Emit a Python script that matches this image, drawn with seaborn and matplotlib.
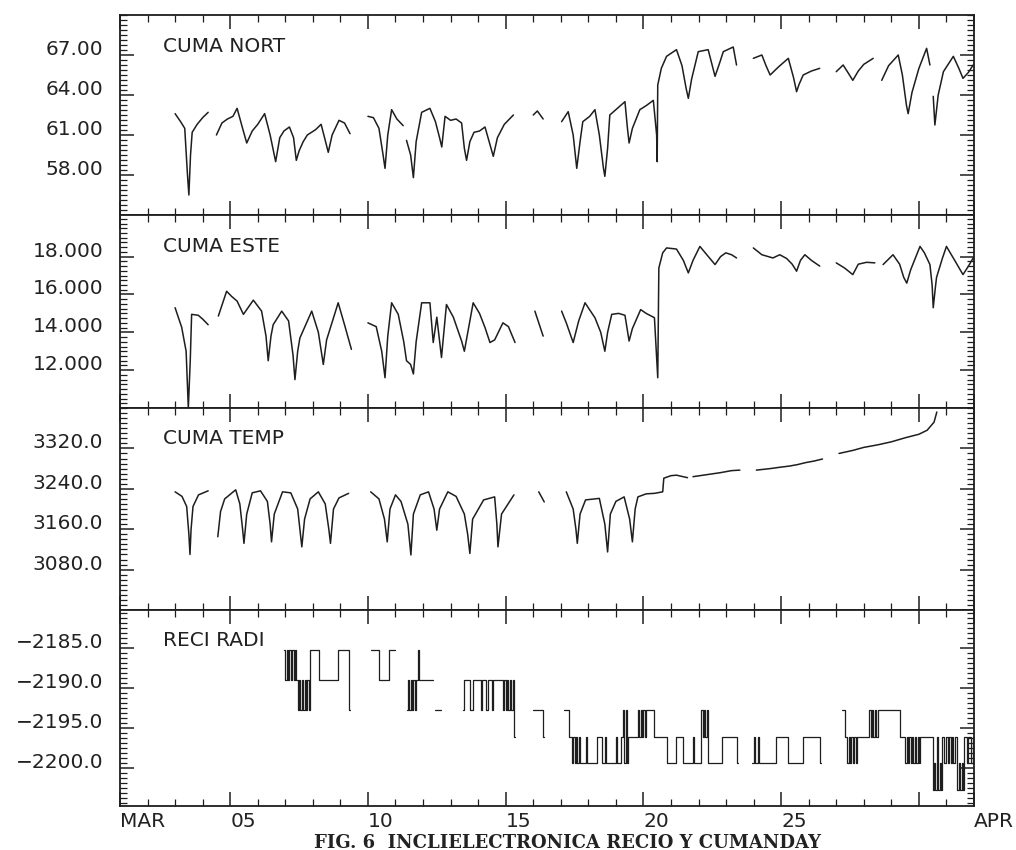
import numpy as np
import pandas as pd
import seaborn as sns
import matplotlib
matplotlib.use("Agg")
import matplotlib.pyplot as plt
from matplotlib.ticker import MultipleLocator, AutoMinorLocator

# --- DATA, x = day of March (32 = 1 April) ---
# None separates the pieces of each record (gaps in the data)

nort_days = [3.0, 3.2, 3.35, 3.45, 3.5, 3.56, 3.62, 3.8, 4.0, 4.2, None,
             4.5, 4.7, 4.9, 5.1, 5.25, 5.45, 5.6, 5.8, 6.0, 6.25, 6.45, 6.65, 6.8, 6.95, 7.15, 7.3, 7.4,
             7.5, 7.65, 7.8, 8.1, 8.3, 8.45, 8.56, 8.7, 8.95, 9.15, 9.35, None,
             10.0, 10.2, 10.4, 10.55, 10.62, 10.72, 10.86, 11.05, 11.28, None,
             11.4, 11.55, 11.65, 11.75, 11.95, 12.25, 12.45, 12.6, 12.68, 12.8, 13.0, 13.2, 13.4, 13.5,
             13.58, 13.7, 13.85, 14.05, 14.25, 14.4, 14.55, 14.7, 14.95, 15.28, None,
             16.0, 16.15, 16.36, None,
             17.03, 17.27, 17.45, 17.58, 17.7, 17.8, 18.05, 18.24, 18.4, 18.55, 18.6, 18.7, 18.78, 19.0,
             19.33, 19.42, 19.48, 19.6, 19.87, 20.1, 20.36, 20.48, 20.5, 20.52, 20.65, 20.84, 21.2, 21.4,
             21.55, 21.63, 21.75, 21.99, 22.35, 22.5, 22.6, 22.75, 22.9, 23.26, 23.38, None,
             23.99, 24.3, 24.45, 24.6, 24.9, 25.26, 25.45, 25.56, 25.65, 25.8, 26.1, 26.4, None,
             27.0, 27.25, 27.45, 27.6, 27.8, 28.0, 28.34, None,
             28.65, 28.9, 29.25, 29.4, 29.55, 29.61, 29.75, 30.0, 30.28, 30.4, None,
             30.52, 30.58, 30.7, 30.89, 31.25, 31.45, 31.6, 31.8, 31.97]
nort_vals = [62.6, 62.0, 61.5, 58.0, 56.5, 59.5, 61.2, 61.8, 62.3, 62.7, None,
             61.0, 61.9, 62.2, 62.4, 63.0, 61.5, 60.4, 61.3, 61.8, 62.6, 61.0, 59.0, 60.8, 61.3, 61.6, 60.8, 59.1,
             59.8, 60.5, 61.0, 61.4, 61.8, 60.6, 59.7, 61.0, 62.1, 61.9, 61.1, None,
             62.4, 62.3, 61.5, 59.5, 58.5, 61.0, 62.9, 62.2, 61.7, None,
             60.6, 59.5, 57.8, 60.5, 62.7, 63.0, 62.0, 60.8, 60.1, 62.4, 62.1, 62.2, 61.9, 60.0,
             59.1, 60.5, 61.2, 61.3, 61.6, 60.5, 59.4, 60.8, 61.8, 62.5, None,
             62.5, 62.8, 62.2, None,
             62.0, 62.75, 61.0, 58.5, 60.5, 62.0, 62.4, 62.9, 61.0, 58.5, 57.9, 60.0, 62.5, 62.9,
             63.5, 61.5, 60.4, 61.5, 62.9, 63.2, 63.6, 61.0, 59.0, 64.75, 66.0, 66.9, 67.4, 66.2,
             64.5, 63.75, 65.2, 67.25, 67.4, 66.2, 65.4, 66.3, 67.25, 67.6, 66.25, None,
             66.75, 67.0, 66.2, 65.5, 66.1, 66.75, 65.3, 64.25, 64.8, 65.5, 65.8, 66.0, None,
             65.75, 66.25, 65.6, 65.1, 65.8, 66.3, 66.75, None,
             65.1, 66.2, 67.0, 65.5, 63.2, 62.6, 64.2, 66.0, 67.5, 66.25, None,
             63.9, 61.75, 64.0, 65.75, 66.9, 66.0, 65.25, 65.7, 66.25]

este_days = [3.0, 3.24, 3.4, 3.48, 3.55, 3.6, 3.84, 4.0, 4.2, None,
             4.57, 4.87, 5.05, 5.25, 5.48, 5.84, 6.14, 6.3, 6.38, 6.48, 6.56, 6.87, 7.12, 7.28, 7.35,
             7.45, 7.53, 7.96, 8.2, 8.38, 8.5, 8.92, 9.15, 9.4, None,
             10.0, 10.3, 10.5, 10.62, 10.72, 10.86, 11.1, 11.3, 11.4, 11.55, 11.65, 11.75, 11.95, 12.25,
             12.37, 12.5, 12.67, 12.85, 13.1, 13.4, 13.5, 13.82, 14.05, 14.25, 14.43, 14.6, 14.9, 15.1,
             15.34, None,
             16.06, 16.36, None,
             17.03, 17.2, 17.45, 17.65, 17.88, 18.24, 18.45, 18.6, 18.7, 18.85, 19.1, 19.33, 19.48, 19.6,
             19.9, 20.1, 20.4, 20.52, 20.56, 20.7, 20.84, 21.2, 21.45, 21.63, 21.8, 22.05, 22.3, 22.6,
             22.8, 22.99, 23.2, 23.38, None,
             23.99, 24.3, 24.7, 24.95, 25.2, 25.4, 25.56, 25.7, 25.86, 26.1, 26.4, None,
             27.0, 27.3, 27.6, 27.8, 28.1, 28.4, None,
             28.7, 29.06, 29.3, 29.45, 29.56, 29.7, 30.04, 30.2, 30.4, 30.48, 30.52, 30.6, 30.64, 30.85,
             31.0, 31.3, 31.6, 31.8, 31.97]
este_vals = [15.3, 14.26, 13.0, 10.0, 12.5, 14.95, 14.9, 14.7, 14.4, None,
             14.86, 16.17, 15.9, 15.65, 14.95, 15.7, 15.12, 13.8, 12.5, 13.8, 14.4, 15.12, 14.6, 12.8, 11.5,
             13.0, 13.7, 15.12, 14.0, 12.3, 13.6, 15.56, 14.4, 13.1, None,
             14.5, 14.3, 13.0, 11.6, 13.8, 15.56, 14.95, 13.5, 12.5, 12.3, 11.8, 13.5, 15.56, 15.56,
             13.46, 14.8, 12.67, 15.47, 14.8, 13.54, 13.0, 15.56, 15.0, 14.25, 13.46, 13.6, 14.5, 14.3,
             13.46, None,
             15.12, 13.8, None,
             15.12, 14.5, 13.46, 14.6, 15.56, 14.77, 14.0, 13.0, 14.0, 14.95, 15.0, 14.9, 13.54, 14.2,
             15.2, 15.0, 14.77, 11.6, 17.4, 18.2, 18.46, 18.4, 17.8, 17.14, 17.8, 18.54, 18.1, 17.58,
             18.0, 18.2, 18.1, 17.93, None,
             18.46, 18.1, 17.93, 18.1, 17.9, 17.6, 17.23, 17.8, 18.1, 17.8, 17.5, None,
             17.67, 17.4, 17.05, 17.6, 17.7, 17.67, None,
             17.58, 18.1, 17.6, 16.9, 16.6, 17.3, 18.54, 18.2, 17.58, 16.5, 15.3, 16.4, 16.9, 17.9,
             18.54, 17.8, 17.05, 17.5, 17.93]

temp_days = [3.0, 3.25, 3.42, 3.5, 3.54, 3.58, 3.65, 3.85, 4.2, None,
             4.55, 4.65, 4.8, 5.2, 5.35, 5.45, 5.5, 5.6, 5.8, 6.1, 6.35, 6.45, 6.5, 6.6, 6.9, 7.2, 7.45,
             7.55, 7.6, 7.7, 7.9, 8.2, 8.45, 8.58, 8.64, 8.75, 8.95, 9.3, None,
             10.1, 10.4, 10.6, 10.7, 10.8, 11.0, 11.2, 11.45, 11.56, 11.65, 11.9, 12.2, 12.4, 12.5, 12.6,
             12.9, 13.2, 13.5, 13.62, 13.7, 13.8, 14.2, 14.6, 14.68, 14.72, 14.85, 15.3, None,
             16.2, 16.4, None,
             17.2, 17.45, 17.55, 17.6, 17.7, 17.9, 18.4, 18.6, 18.7, 18.8, 19.0, 19.3, 19.5, 19.6, 19.7,
             19.8, 20.1, 20.4, 20.7, 20.74, 21.0, 21.2, 21.6, None,
             21.8, 22.3, 22.8, 23.2, 23.5, None,
             24.1, 24.6, 25.0, 25.3, 25.6, 25.9, 26.2, 26.5, None,
             27.1, 27.6, 28.0, 28.5, 29.0, 29.5, 30.0, 30.3, 30.55, 30.65]
temp_vals = [3234, 3225, 3205, 3150, 3110, 3160, 3205, 3228, 3236, None,
             3145, 3195, 3220, 3238, 3210, 3160, 3132, 3190, 3232, 3236, 3215, 3170, 3135, 3190, 3234, 3232, 3200,
             3150, 3125, 3180, 3220, 3234, 3210, 3160, 3132, 3200, 3222, 3231, None,
             3234, 3220, 3180, 3135, 3200, 3228, 3215, 3170, 3109, 3190, 3228, 3234, 3200, 3158, 3200,
             3234, 3225, 3190, 3150, 3112, 3180, 3218, 3224, 3170, 3125, 3190, 3228, None,
             3234, 3214, None,
             3234, 3200, 3160, 3132, 3190, 3218, 3221, 3170, 3115, 3190, 3215, 3224, 3180, 3135, 3200,
             3224, 3230, 3231, 3234, 3261, 3266, 3267, 3262, None,
             3264, 3268, 3272, 3276, 3277, None,
             3277, 3280, 3283, 3285, 3288, 3292, 3295, 3299, None,
             3310, 3316, 3322, 3327, 3333, 3341, 3348, 3356, 3372, 3392]

# step record, levels about -2185.2, -2189.0, -2192.8, -2196.1, -2199.4, -2202.8
radi_days = [6.95, 7.0, 7.05, 7.1, 7.15, 7.2, 7.25, 7.3, 7.35, 7.4, 7.45, 7.5, 7.55, 7.6, 7.65, 7.7,
             7.75, 7.8, 7.85, 7.9, 8.24, 8.9, 9.3, 9.35, None,
             10.1, 10.4, 10.75, 11.0, None,
             11.4, 11.45, 11.5, 11.55, 11.6, 11.65, 11.7, 11.75, 11.8, 11.85, 12.35, None,
             12.45, 12.65, None,
             13.45, 13.5, 13.7, 13.8, 14.1, 14.15, 14.3, 14.35, 14.5, 14.55, 14.9, 14.95, 15.0, 15.05,
             15.1, 15.15, 15.2, 15.25, 15.3, 15.33, None,
             16.0, 16.35, 16.38, None,
             17.1, 17.3, 17.4, 17.45, 17.5, 17.55, 17.6, 17.65, 17.7, 17.9, 17.95, 18.3, 18.5, 18.6,
             18.65, 19.0, 19.05, 19.2, 19.25, 19.3, 19.35, 19.4, 19.45, 19.8, 19.85, 19.9, 19.95, 20.0,
             20.05, 20.1, 20.4, 20.85, 21.2, 21.45, 21.8, 21.85, 22.1, 22.15, 22.2, 22.25, 22.3, 22.35,
             22.85, 23.4, 23.45, None,
             23.95, 24.0, 24.05, 24.15, 24.2, 24.83, 25.25, 25.8, 26.4, 26.43, None,
             27.2, 27.3, 27.4, 27.45, 27.5, 27.55, 27.6, 27.65, 27.7, 27.75, 28.2, 28.25, 28.3, 28.35,
             28.4, 28.45, 28.5, 29.3, 29.5, 29.55, 29.6, 29.65, 29.7, 29.75, 29.8, 29.85, 29.9, 29.95,
             30.0, 30.05, 30.5, 30.55, 30.6, 30.65, 30.7, 30.75, 30.8, 30.85, 30.9, 31.0, 31.05, 31.1,
             31.15, 31.2, 31.25, 31.3, 31.4, 31.45, 31.5, 31.55, 31.6, 31.65, 31.75, 31.8, 31.9, 31.97]
radi_vals = [-2185.2, -2189.0, -2185.2, -2189.0, -2185.2, -2189.0, -2185.2, -2189.0, -2185.2, -2189.0,
             -2192.8, -2189.0, -2192.8, -2189.0, -2192.8, -2189.0, -2192.8, -2189.0, -2192.8, -2185.2,
             -2189.0, -2185.2, -2192.8, -2192.8, None,
             -2185.2, -2189.0, -2185.2, -2185.2, None,
             -2192.8, -2189.0, -2192.8, -2189.0, -2192.8, -2189.0, -2192.8, -2189.0, -2185.2, -2189.0,
             -2189.0, None,
             -2192.8, -2192.8, None,
             -2192.8, -2189.0, -2192.8, -2189.0, -2192.8, -2189.0, -2192.8, -2189.0, -2192.8, -2189.0,
             -2192.8, -2189.0, -2192.8, -2189.0, -2192.8, -2189.0, -2192.8, -2189.0, -2196.1, -2196.1, None,
             -2192.8, -2196.1, -2196.1, None,
             -2192.8, -2196.1, -2199.4, -2196.1, -2199.4, -2196.1, -2199.4, -2196.1, -2199.4, -2196.1,
             -2199.4, -2196.1, -2199.4, -2196.1, -2199.4, -2196.1, -2199.4, -2196.1, -2192.8, -2199.4,
             -2192.8, -2199.4, -2196.1, -2192.8, -2196.1, -2192.8, -2196.1, -2192.8, -2196.1, -2192.8,
             -2196.1, -2199.4, -2196.1, -2199.4, -2196.1, -2199.4, -2192.8, -2196.1, -2192.8, -2196.1,
             -2192.8, -2199.4, -2196.1, -2199.4, -2199.4, None,
             -2199.4, -2196.1, -2199.4, -2196.1, -2199.4, -2196.1, -2199.4, -2196.1, -2199.4, -2199.4, None,
             -2192.8, -2196.1, -2199.4, -2196.1, -2199.4, -2196.1, -2199.4, -2196.1, -2199.4, -2196.1,
             -2192.8, -2196.1, -2192.8, -2196.1, -2192.8, -2196.1, -2192.8, -2196.1, -2199.4, -2196.1,
             -2199.4, -2196.1, -2199.4, -2196.1, -2199.4, -2196.1, -2199.4, -2196.1, -2199.4, -2196.1,
             -2202.8, -2199.4, -2202.8, -2196.1, -2202.8, -2199.4, -2202.8, -2196.1, -2199.4, -2196.1,
             -2199.4, -2196.1, -2199.4, -2196.1, -2199.4, -2196.1, -2202.8, -2199.4, -2202.8, -2199.4,
             -2202.8, -2196.1, -2199.4, -2196.1, -2199.4, -2196.1]

panel_names = ["CUMA NORT", "CUMA ESTE", "CUMA TEMP", "RECI RADI"]
panel_ylims = [(55, 70), (10, 20.2), (3000, 3400), (-2204.8, -2180.2)]
panel_yticks = [[67, 64, 61, 58], [18, 16, 14, 12], [3320, 3240, 3160, 3080], [-2185, -2190, -2195, -2200]]
panel_ylabels = [["67.00", "64.00", "61.00", "58.00"],
                 ["18.000", "16.000", "14.000", "12.000"],
                 ["3320.0", "3240.0", "3160.0", "3080.0"],
                 ["\u22122185.0", "\u22122190.0", "\u22122195.0", "\u22122200.0"]]
x_ticks = [1, 5, 10, 15, 20, 25, 30, 32]
x_label_days = [1, 5, 10, 15, 20, 25, 32]
x_labels = ["MAR", "05", "10", "15", "20", "25", "APR"]
fig_title = "FIG. 6  INCLIELECTRONICA RECIO Y CUMANDAY"


def to_frame(days, vals):
    # split on None -> one "seg" id per continuous piece
    seg, rows = 0, []
    for d, v in zip(days, vals):
        if d is None:
            seg += 1
            continue
        rows.append((d, v, seg))
    return pd.DataFrame(rows, columns=["day", "value", "seg"])


frames = [to_frame(nort_days, nort_vals), to_frame(este_days, este_vals),
          to_frame(temp_days, temp_vals), to_frame(radi_days, radi_vals)]

sns.set_style("ticks")
plt.rcParams["font.family"] = ["DejaVu Sans"]

fig = plt.figure(figsize=(10.16, 8.5), dpi=100)
gs = fig.add_gridspec(4, 1, left=120 / 1016, right=974 / 1016, top=1 - 15 / 850, bottom=1 - 806 / 850,
                      hspace=0, height_ratios=[200, 193, 202, 196])
axes = [fig.add_subplot(gs[i]) for i in range(4)]

ink = "#1e1e1e"
for i, ax in enumerate(axes):
    extra = {"drawstyle": "steps-post", "lw": 0.9} if i == 3 else {"lw": 1.1}
    sns.lineplot(data=frames[i], x="day", y="value", units="seg", estimator=None, sort=False,
                 color=ink, ax=ax, legend=False, **extra)

    ax.set_xlim(1, 32)
    ax.set_ylim(*panel_ylims[i])
    ax.set_xlabel("")
    ax.set_ylabel("")
    ax.set_yticks(panel_yticks[i], panel_ylabels[i], va="baseline")
    ax.yaxis.set_minor_locator(AutoMinorLocator(8))
    ax.set_xticks(x_ticks)
    ax.xaxis.set_minor_locator(MultipleLocator(1))

    ax.tick_params(axis="both", which="both", direction="in", top=True, right=True,
                   bottom=True, left=True, color=ink)
    ax.tick_params(which="major", length=10, width=1.1)
    ax.tick_params(which="minor", length=5, width=0.9)
    ax.tick_params(axis="y", labelsize=14.5, pad=12, labelcolor="#222222")
    ax.tick_params(axis="x", labelbottom=False)

    for sp in ax.spines.values():
        sp.set_linewidth(1.3)
        sp.set_color(ink)

    ax.annotate(panel_names[i], xy=(0, 1), xycoords="axes fraction", xytext=(43, -31),
                textcoords="offset pixels", ha="left", va="center", fontsize=14.5, color="#222222")

# date labels under the bottom panel, left-aligned on their ticks
for d, lab in zip(x_label_days, x_labels):
    axes[3].annotate(lab, xy=(d, 0), xycoords=("data", "axes fraction"), xytext=(0, -6),
                     textcoords="offset pixels", ha="left", va="top", fontsize=14.5, color="#222222")

fig.text(567 / 1016, 1 - 843 / 850, fig_title, ha="center", va="center", fontsize=13,
         fontweight="bold", family="DejaVu Serif", color="#222222")

fig.savefig("out.png", dpi=100, facecolor="white")
